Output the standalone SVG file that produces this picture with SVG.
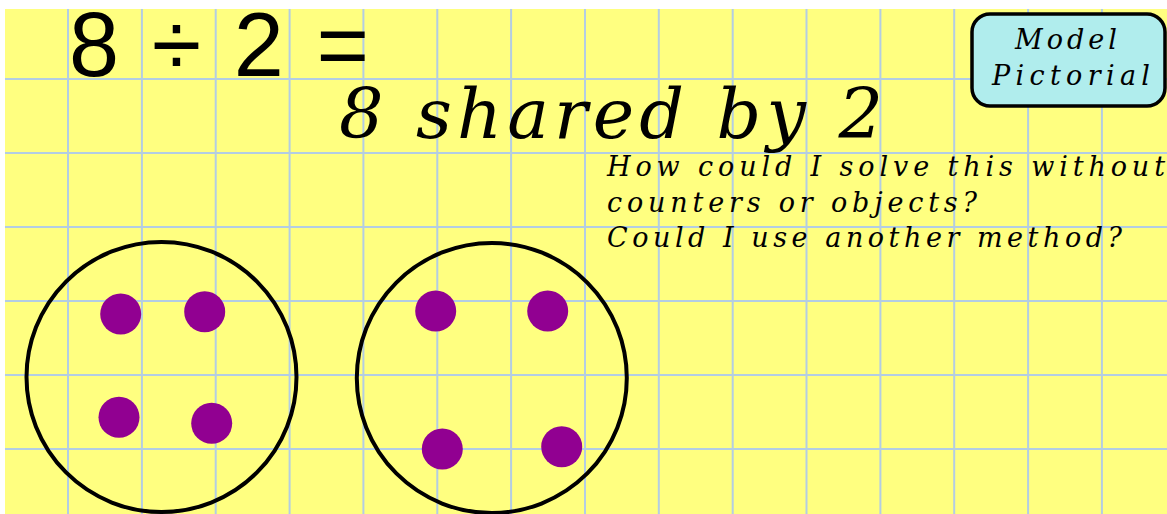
<svg xmlns="http://www.w3.org/2000/svg" width="1167" height="514" viewBox="0 0 1167 514">
  <style>
    .grid { stroke: #b3cde3; stroke-width: 2; fill: none; }
    .ring { fill: none; stroke: #000; stroke-width: 4; }
    .dot { fill: #910091; }
    .cur { font-family: "DejaVu Serif", "Liberation Serif", serif; font-style: italic; fill: #000; }
    .sans { font-family: "Liberation Sans", "DejaVu Sans", sans-serif; fill: #000; }
  </style>
  <rect x="0" y="0" width="1167" height="514" fill="#ffffff"/>
  <rect x="5" y="9" width="1162" height="505" fill="#ffff80"/>
  <g id="grid" class="grid">
    <path d="M68 9V514M141.9 9V514M215.7 9V514M289.6 9V514M363.4 9V514M437.3 9V514M511.1 9V514M585 9V514M658.8 9V514M732.7 9V514M806.5 9V514M880.4 9V514M954.2 9V514M1028.1 9V514M1101.9 9V514"/>
    <path d="M5 79H1167M5 153H1167M5 227H1167M5 301H1167M5 375H1167M5 449H1167"/>
  </g>
  <g id="title">
    <text class="sans" x="69" y="76" font-size="90" textLength="300" lengthAdjust="spacing">8 ÷ 2 =</text>
  </g>
  <g id="subtitle">
    <text class="cur" x="339" y="138" font-size="70" textLength="544" lengthAdjust="spacing">8 shared by 2</text>
  </g>
  <g id="badge">
    <rect x="972" y="14" width="193" height="92" rx="18" ry="18" fill="#b0eded" stroke="#000" stroke-width="3.5"/>
    <text class="cur" x="1015" y="49" font-size="27" textLength="102" lengthAdjust="spacing">Model</text>
    <text class="cur" x="992" y="85" font-size="27" textLength="158" lengthAdjust="spacing">Pictorial</text>
  </g>
  <g id="question">
    <text class="cur" x="607" y="176" font-size="27" textLength="558" lengthAdjust="spacing">How could I solve this without</text>
    <text class="cur" x="607" y="212" font-size="27" textLength="370" lengthAdjust="spacing">counters or objects?</text>
    <text class="cur" x="607" y="247" font-size="27" textLength="515" lengthAdjust="spacing">Could I use another method?</text>
  </g>
  <g id="group-left">
    <circle class="ring" cx="161.5" cy="377" r="135"/>
    <circle class="dot" cx="120.7" cy="314" r="20.5"/>
    <circle class="dot" cx="204.7" cy="311.7" r="20.5"/>
    <circle class="dot" cx="119" cy="417.3" r="20.5"/>
    <circle class="dot" cx="211.7" cy="423.3" r="20.5"/>
  </g>
  <g id="group-right">
    <circle class="ring" cx="491.8" cy="378" r="135"/>
    <circle class="dot" cx="435.7" cy="311" r="20.5"/>
    <circle class="dot" cx="547.7" cy="311" r="20.5"/>
    <circle class="dot" cx="442.3" cy="449" r="20.5"/>
    <circle class="dot" cx="561.7" cy="446.7" r="20.5"/>
  </g>
  <g id="connectors"></g>
</svg>
